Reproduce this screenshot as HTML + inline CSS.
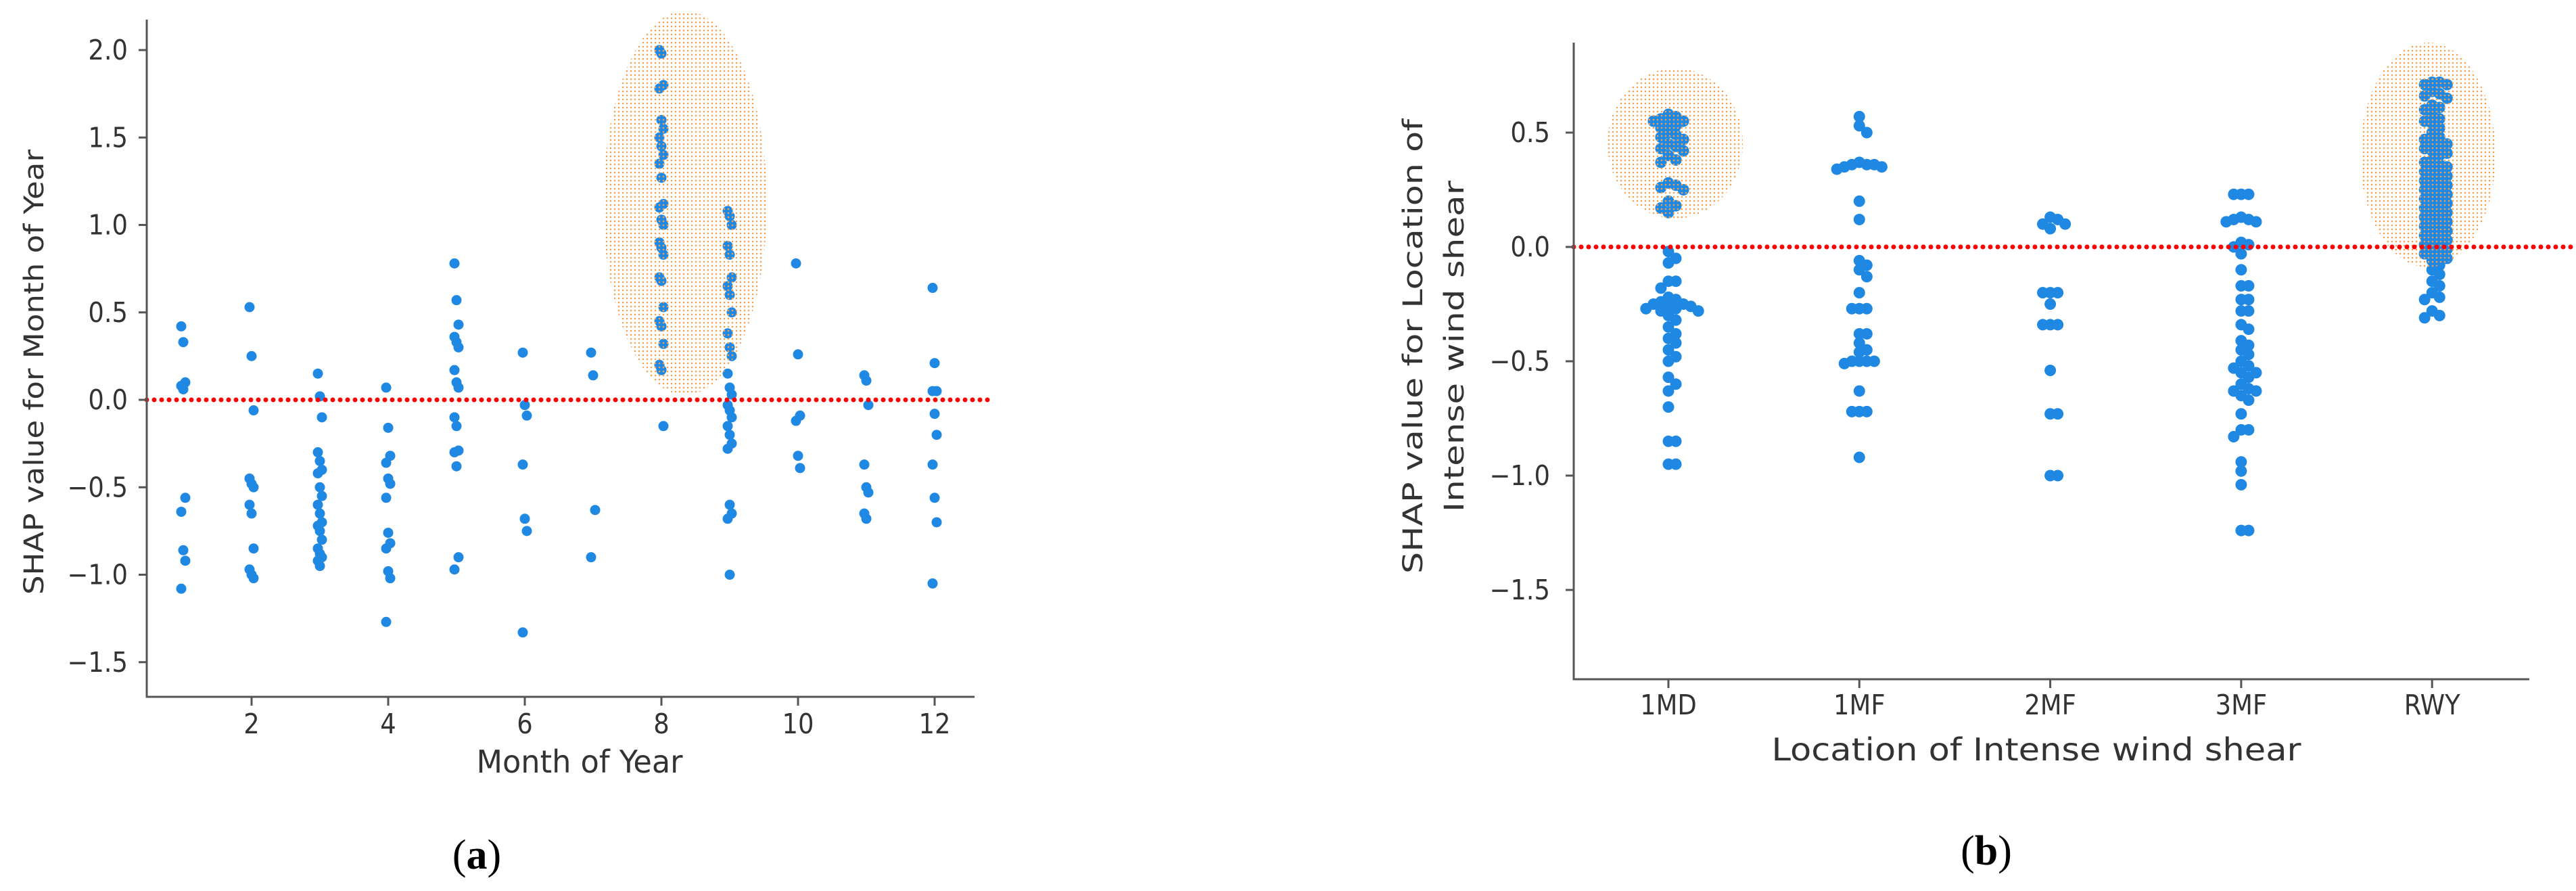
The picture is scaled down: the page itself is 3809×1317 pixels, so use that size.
<!DOCTYPE html>
<html><head><meta charset="utf-8"><style>
html,body{margin:0;padding:0;background:#fff;}
svg{display:block;}
.tick{font-family:"DejaVu Sans Condensed","DejaVu Sans","Liberation Sans Narrow",sans-serif;font-size:41px;fill:#333;}
.ttl{font-family:"DejaVu Sans","Liberation Sans",sans-serif;font-size:40px;fill:#333;}
.xt{font-family:"DejaVu Sans Condensed","DejaVu Sans","Liberation Sans Narrow",sans-serif;font-size:46px;fill:#333;}
.cap{font-family:"Liberation Serif",serif;font-size:62px;fill:#000;}
</style></head><body>
<svg id="fig" width="3809" height="1317" viewBox="0 0 3809 1317" xmlns="http://www.w3.org/2000/svg">
<defs>
<pattern id="dotpat" width="6" height="6" patternUnits="userSpaceOnUse">
<circle cx="3" cy="3" r="1.3" fill="#f2a050"/>
</pattern>
</defs>
<g id="chartA"></g>
<g id="chartB"></g>
</svg>
<script>
// ---------- Chart A data ----------
const monthCats = [1,2,3,4,5,6,7,8,9,10,11,12];
const monthTicks = [2,4,6,8,10,12];
const shapTicksA = [-1.5,-1.0,-0.5,0.0,0.5,1.0,1.5,2.0];
const shapM1 = [0.42,0.33,0.1,0.08,0.06,-0.56,-0.64,-0.86,-0.92,-1.08];
const shapM2 = [0.53,0.25,-0.06,-0.45,-0.48,-0.5,-0.6,-0.65,-0.85,-0.97,-1.0,-1.02];
const shapM3 = [0.15,0.02,-0.1,-0.3,-0.35,-0.4,-0.42,-0.5,-0.55,-0.6,-0.65,-0.7,-0.72,-0.75,-0.8,-0.85,-0.88,-0.9,-0.92,-0.95];
const shapM4 = [0.07,-0.16,-0.32,-0.36,-0.45,-0.48,-0.56,-0.76,-0.82,-0.85,-0.98,-1.02,-1.27];
const shapM5 = [0.78,0.57,0.43,0.36,0.33,0.3,0.17,0.1,0.07,-0.1,-0.15,-0.29,-0.3,-0.38,-0.9,-0.97];
const shapM6 = [0.27,-0.03,-0.09,-0.37,-0.68,-0.75,-1.33];
const shapM7 = [0.27,0.14,-0.63,-0.9];
const shapM8 = [2.0,1.98,1.8,1.78,1.6,1.55,1.5,1.45,1.4,1.35,1.27,1.12,1.1,1.03,1.0,0.9,0.87,0.83,0.7,0.68,0.53,0.45,0.42,0.32,0.2,0.17,-0.15];
const shapM9 = [1.08,1.05,1.0,0.88,0.83,0.7,0.65,0.6,0.5,0.38,0.3,0.25,0.15,0.07,0.03,-0.03,-0.06,-0.1,-0.15,-0.2,-0.25,-0.28,-0.6,-0.65,-0.68,-1.0];
const shapM10 = [0.78,0.26,-0.09,-0.12,-0.32,-0.39];
const shapM11 = [0.14,0.11,-0.03,-0.37,-0.5,-0.53,-0.65,-0.68];
const shapM12 = [0.64,0.21,0.05,0.05,-0.08,-0.2,-0.37,-0.56,-0.7,-1.05];
const monthSeries = [shapM1,shapM2,shapM3,shapM4,shapM5,shapM6,shapM7,shapM8,shapM9,shapM10,shapM11,shapM12];

// ---------- Chart B data ----------
const locCats = ["1MD","1MF","2MF","3MF","RWY"];
const shapTicksB = [-1.5,-1.0,-0.5,0.0,0.5];
const shap1MD = [0.58,0.57,0.56,0.55,0.55,0.54,0.53,0.52,0.5,0.49,0.48,0.47,0.45,0.44,0.43,0.42,0.4,0.38,0.37,0.28,0.27,0.26,0.25,0.2,0.18,0.17,0.15,-0.02,-0.05,-0.07,-0.15,-0.15,-0.18,-0.22,-0.23,-0.24,-0.25,-0.25,-0.26,-0.26,-0.27,-0.27,-0.28,-0.28,-0.3,-0.32,-0.35,-0.38,-0.4,-0.42,-0.45,-0.48,-0.5,-0.57,-0.6,-0.63,-0.7,-0.85,-0.85,-0.95,-0.95];
const shap1MF = [0.57,0.53,0.5,0.37,0.36,0.36,0.36,0.35,0.35,0.34,0.2,0.12,-0.06,-0.08,-0.1,-0.13,-0.2,-0.27,-0.27,-0.27,-0.38,-0.38,-0.42,-0.45,-0.46,-0.5,-0.5,-0.5,-0.5,-0.51,-0.63,-0.72,-0.72,-0.72,-0.92];
const shap2MF = [0.13,0.12,0.1,0.1,0.08,-0.2,-0.2,-0.2,-0.25,-0.34,-0.34,-0.34,-0.54,-0.73,-0.73,-1.0,-1.0];
const shap3MF = [0.23,0.23,0.23,0.13,0.12,0.12,0.11,0.11,0.02,0.01,0.0,-0.03,-0.1,-0.17,-0.17,-0.23,-0.23,-0.28,-0.28,-0.34,-0.36,-0.41,-0.43,-0.45,-0.47,-0.5,-0.52,-0.53,-0.55,-0.55,-0.57,-0.6,-0.62,-0.63,-0.63,-0.65,-0.67,-0.73,-0.8,-0.8,-0.83,-0.94,-0.98,-1.04,-1.24,-1.24];
const shapRWY = [0.72,0.72,0.71,0.71,0.68,0.67,0.66,0.65,0.62,0.61,0.6,0.58,0.56,0.55,0.54,0.52,0.5,0.48,0.47,0.46,0.45,0.44,0.43,0.42,0.41,0.4,0.38,0.37,0.36,0.35,0.34,0.33,0.32,0.31,0.3,0.29,0.28,0.27,0.26,0.25,0.24,0.23,0.22,0.21,0.2,0.19,0.18,0.17,0.16,0.15,0.14,0.13,0.12,0.11,0.1,0.09,0.08,0.07,0.06,0.05,0.04,0.03,0.02,0.01,0.0,-0.01,-0.02,-0.03,-0.04,-0.05,-0.06,-0.08,-0.1,-0.12,-0.15,-0.17,-0.2,-0.22,-0.23,-0.28,-0.3,-0.31];
const locSeries = [shap1MD,shap1MF,shap2MF,shap3MF,shapRWY];

const NS = "http://www.w3.org/2000/svg";
function mk(tag, attrs, parent){ const e=document.createElementNS(NS,tag); for(const k in attrs) e.setAttribute(k,attrs[k]); parent.appendChild(e); return e; }
function fmt(v){ return (v<0?"\u2212":"")+Math.abs(v).toFixed(1); }

// ---------- Chart A ----------
(function(){
  const g = document.getElementById('chartA');
  const x0=217, yBot=1030, yTop=29, xEnd=1441;
  const xs = m => 271 + (m-1)*101;
  const ys = v => 591 - v*258.5;
  const pts = mk('g',{},g);
  
  
  monthSeries.forEach((arr,mi)=>{
    arr.forEach((v,i)=>{
      const off = ((i%3)-1)*3;
      const c = mk('circle',{cx:xs(monthCats[mi])+off, cy:ys(v), r:7.5, fill:'#1f88e3'},pts);
      
      
    });
  });
  const el = mk('ellipse',{cx:1013,cy:300,rx:121,ry:284,fill:'url(#dotpat)'},g);
  
  
  const zl = mk('line',{x1:x0,y1:ys(0),x2:1468,y2:ys(0),stroke:'#ff0000','stroke-width':7,'stroke-dasharray':'0 11','stroke-linecap':'round'},g);
  
  
  const ax = mk('path',{d:`M${x0} ${yTop} V${yBot} H${xEnd}`,fill:'none',stroke:'#555','stroke-width':3},g);
  
  
  shapTicksA.forEach(t=>{
    mk('line',{x1:x0-12,y1:ys(t),x2:x0,y2:ys(t),stroke:'#555','stroke-width':3},g);
    const tx = mk('text',{x:189,y:ys(t)+14,'text-anchor':'end',class:'tick'},g);
    tx.textContent = fmt(t);
    
    
  });
  monthTicks.forEach(t=>{
    mk('line',{x1:xs(t),y1:yBot,x2:xs(t),y2:yBot+13,stroke:'#555','stroke-width':3},g);
    const tx = mk('text',{x:xs(t),y:1084,'text-anchor':'middle',class:'tick'},g);
    tx.textContent = t;
    
    
  });
  const yt = mk('text',{x:0,y:0,'text-anchor':'middle',class:'ttl',transform:'translate(64,550) rotate(-90)',textLength:658,lengthAdjust:'spacingAndGlyphs'},g);
  yt.textContent='SHAP value for Month of Year';
  
  
  const xt = mk('text',{x:857,y:1142,'text-anchor':'middle',class:'xt',textLength:305,lengthAdjust:'spacingAndGlyphs'},g);
  xt.textContent='Month of Year';
  
  
  const cp = mk('text',{x:705,y:1284,'text-anchor':'middle',class:'cap'},g);
  cp.innerHTML='(<tspan font-weight="bold">a</tspan>)';
  
  
})();

// ---------- Chart B ----------
(function(){
  const g = document.getElementById('chartB');
  const x0=2327, yBot=1004, yTop=63, xEnd=3740;
  const xs = i => 2467 + i*282.3;
  const ys = v => 365 - v*338;
  const R=8.5;
  const pts = mk('g',{},g);
  
  
  locSeries.forEach((arr,ci)=>{
    const placed=[];
    arr.forEach(v=>{
      const y=ys(v); let dx=0;
      for(let k=0;k<40;k++){
        const cand = (k%2?1:-1)*Math.ceil(k/2)*R*1.3;
        if(placed.every(p=>Math.hypot(p[0]-cand,p[1]-y)>=R*1.2)){dx=cand;break;}
      }
      placed.push([dx,y]);
      const c = mk('circle',{cx:xs(ci)+dx,cy:y,r:R,fill:'#1f88e3'},pts);
      
      
    });
  });
  const e1 = mk('ellipse',{cx:2477,cy:212,rx:100,ry:111,fill:'url(#dotpat)'},g);
  
  
  const e2 = mk('ellipse',{cx:3590,cy:229,rx:100,ry:166,fill:'url(#dotpat)'},g);
  
  
  const zl = mk('line',{x1:x0,y1:ys(0),x2:3805,y2:ys(0),stroke:'#ff0000','stroke-width':7,'stroke-dasharray':'0 11','stroke-linecap':'round'},g);
  
  
  const ax = mk('path',{d:`M${x0} ${yTop} V${yBot} H${xEnd}`,fill:'none',stroke:'#555','stroke-width':3},g);
  
  
  shapTicksB.forEach(t=>{
    mk('line',{x1:x0-12,y1:ys(t),x2:x0,y2:ys(t),stroke:'#555','stroke-width':3},g);
    const tx = mk('text',{x:2292,y:ys(t)+14,'text-anchor':'end',class:'tick'},g);
    tx.textContent = fmt(t);
    
    
  });
  locCats.forEach((c,i)=>{
    mk('line',{x1:xs(i),y1:yBot,x2:xs(i),y2:yBot+13,stroke:'#555','stroke-width':3},g);
    const tx = mk('text',{x:xs(i),y:1056,'text-anchor':'middle',class:'tick'},g);
    tx.textContent = c;
    
    
  });
  const yt1 = mk('text',{x:0,y:0,'text-anchor':'middle',class:'ttl',transform:'translate(2103,512) rotate(-90)',textLength:672,lengthAdjust:'spacingAndGlyphs'},g);
  yt1.textContent='SHAP value for Location of';
  
  
  const yt2 = mk('text',{x:0,y:0,'text-anchor':'middle',class:'ttl',transform:'translate(2164,512) rotate(-90)',textLength:490,lengthAdjust:'spacingAndGlyphs'},g);
  yt2.textContent='Intense wind shear';
  
  
  const xt = mk('text',{x:3011,y:1124,'text-anchor':'middle',class:'xt',textLength:783,lengthAdjust:'spacingAndGlyphs'},g);
  xt.textContent='Location of Intense wind shear';
  
  
  const cp = mk('text',{x:2937,y:1278,'text-anchor':'middle',class:'cap'},g);
  cp.innerHTML='(<tspan font-weight="bold">b</tspan>)';
  
  
})();
</script>
</body></html>
